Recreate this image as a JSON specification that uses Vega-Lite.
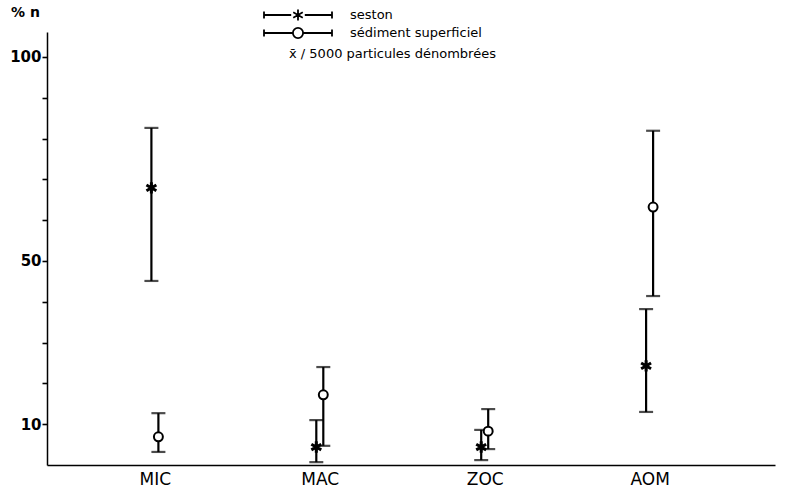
{
  "$schema": "https://vega.github.io/schema/vega-lite/v6.json",
  "width": 728,
  "height": 433,
  "autosize": {"type": "none"},
  "padding": {"left": 47, "top": 32, "right": 14, "bottom": 26},
  "background": "white",
  "config": {"view": {"stroke": null}, "font": "DejaVu Sans"},
  "title": {"text": "x̄ / 5000 particules dénombrées", "anchor": "start", "frame": "group", "orient": "top", "dx": 242, "dy": 60, "fontSize": 13, "fontWeight": "normal", "font": "DejaVu Sans", "color": "black"},
  "data": {"values": [
    {"cat": "MIC", "series": "seston", "mean": 67.9, "low": 45.1, "high": 82.6},
    {"cat": "MIC", "series": "sédiment superficiel", "mean": 6.9, "low": 3.2, "high": 12.7},
    {"cat": "MAC", "series": "seston", "mean": 4.4, "low": 0.7, "high": 11.0},
    {"cat": "MAC", "series": "sédiment superficiel", "mean": 17.2, "low": 4.7, "high": 24.0},
    {"cat": "ZOC", "series": "seston", "mean": 4.4, "low": 1.2, "high": 8.6},
    {"cat": "ZOC", "series": "sédiment superficiel", "mean": 8.3, "low": 3.9, "high": 13.7},
    {"cat": "AOM", "series": "seston", "mean": 24.3, "low": 13.0, "high": 38.2},
    {"cat": "AOM", "series": "sédiment superficiel", "mean": 63.2, "low": 41.4, "high": 81.9}
  ]},
  "encoding": {
    "x": {"field": "cat", "type": "nominal", "sort": ["MIC", "MAC", "ZOC", "AOM"],
      "scale": {"type": "point", "padding": 0.7074, "align": 0.4625},
      "axis": {"title": null, "ticks": false, "labelAngle": 0, "labelFontSize": 17, "labelFontWeight": "normal", "labelColor": "black", "labelPadding": 6, "domainColor": "black", "domainWidth": 1.5, "grid": false}},
    "xOffset": {"field": "series", "type": "nominal", "sort": ["seston", "sédiment superficiel"], "scale": {"type": "point", "range": [-7, 7]}}
  },
  "layer": [
    {
      "mark": {"type": "rule", "color": "black", "strokeWidth": 2.2},
      "encoding": {
        "y": {"field": "low", "type": "quantitative", "scale": {"domain": [0, 106.1], "nice": false},
          "axis": {"values": [10, 20, 30, 40, 50, 60, 70, 80, 90, 100],
            "labelOpacity": {"condition": {"test": "datum.value == 10 || datum.value == 50 || datum.value == 100", "value": 1}, "value": 0},
            "grid": false, "ticks": true, "tickSize": 5, "tickColor": "black", "tickWidth": 1.6, "domainColor": "black", "domainWidth": 1.5, "labelFontSize": 15, "labelFontWeight": "bold", "labelColor": "black", "labelPadding": 1, "labelOverlap": false, "title": "% n", "titleAngle": 0, "titleX": -22, "titleY": -20, "titleAlign": "center", "titleBaseline": "middle", "titleFontSize": 14, "titleFontWeight": "bold", "titleColor": "black"}},
        "y2": {"field": "high"}
      }
    },
    {
      "mark": {"type": "tick", "color": "black", "size": 14, "thickness": 2.2, "orient": "horizontal"},
      "encoding": {"y": {"field": "high", "type": "quantitative"}}
    },
    {
      "mark": {"type": "tick", "color": "black", "size": 14, "thickness": 2.2, "orient": "horizontal"},
      "encoding": {"y": {"field": "low", "type": "quantitative"}}
    },
    {
      "transform": [{"filter": "datum.series == 'seston'"}],
      "mark": {"type": "point", "shape": "M0,-1L0,1M-0.87,-0.5L0.87,0.5M-0.87,0.5L0.87,-0.5", "size": 130, "filled": false, "stroke": "black", "strokeWidth": 3, "opacity": 1},
      "encoding": {"y": {"field": "mean", "type": "quantitative"}}
    },
    {
      "transform": [{"filter": "datum.series != 'seston'"}],
      "mark": {"type": "point", "shape": "circle", "size": 80, "filled": true, "fill": "white", "stroke": "black", "strokeWidth": 2, "opacity": 1},
      "encoding": {"y": {"field": "mean", "type": "quantitative"}}
    },
    {
      "mark": {"type": "point", "opacity": 0, "filled": false},
      "encoding": {
        "y": {"field": "mean", "type": "quantitative"},
        "shape": {"field": "series", "type": "nominal", "sort": ["seston", "sédiment superficiel"],
          "scale": {"domain": ["seston", "sédiment superficiel"], "range": [
            "M-1,-0.1L-1,0.1M1,-0.1L1,0.1M-1,0L-0.2,0M0.2,0L1,0M0,-0.16L0,0.16M-0.14,-0.08L0.14,0.08M-0.14,0.08L0.14,-0.08",
            "M-1,-0.1L-1,0.1M1,-0.1L1,0.1M-1,0L-0.15,0M0.15,0L1,0M0.15,0A0.15,0.15 0 1,1 -0.15,0A0.15,0.15 0 1,1 0.15,0Z"
          ]},
          "legend": {"orient": "none", "legendX": 216, "legendY": -26, "title": null, "symbolSize": 4624, "clipHeight": 18, "labelOffset": 17, "labelFontSize": 13, "labelColor": "black", "labelFont": "DejaVu Sans", "symbolStrokeColor": "black", "symbolFillColor": "white", "symbolStrokeWidth": 1.8, "symbolOpacity": 1, "rowPadding": 0}}
      }
    }
  ]
}
